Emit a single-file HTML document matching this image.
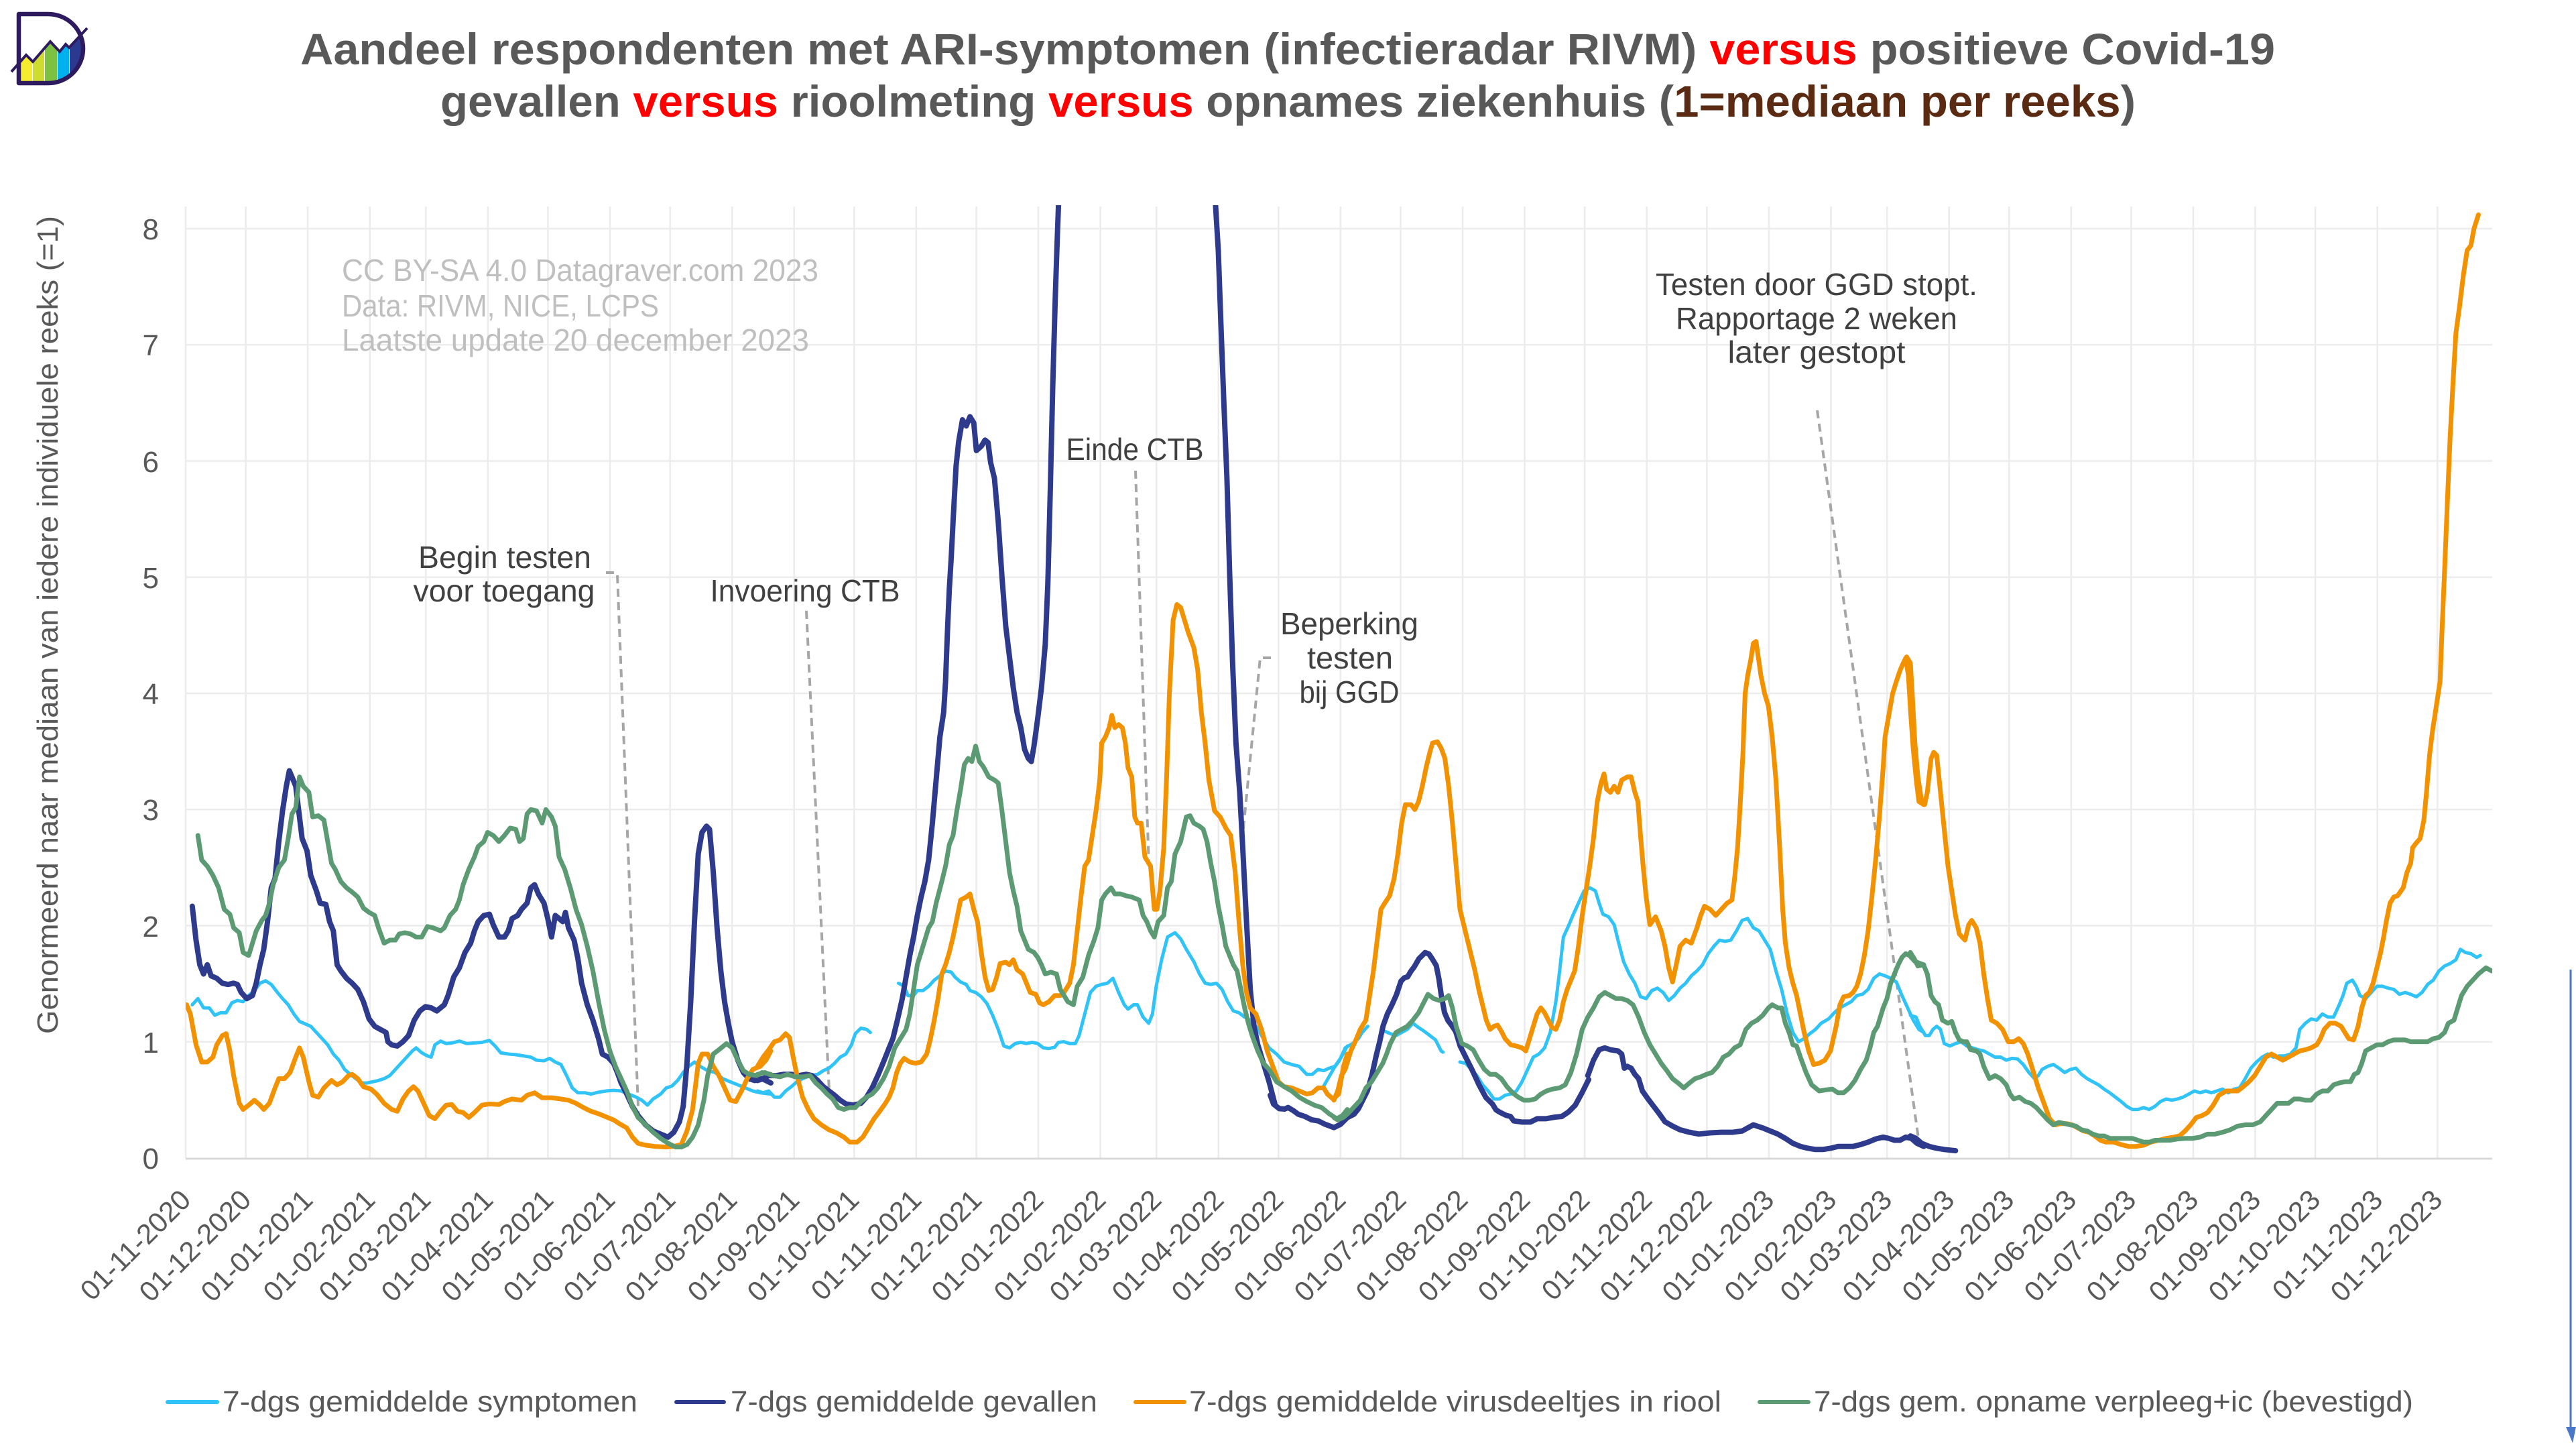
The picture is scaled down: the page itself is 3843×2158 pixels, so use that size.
<!DOCTYPE html>
<html><head><meta charset="utf-8"><style>
html,body{margin:0;padding:0;background:#fff;}
svg{display:block;}
text{font-family:"Liberation Sans",sans-serif;}
</style></head><body>
<svg width="3843" height="2158" viewBox="0 0 3843 2158" xmlns="http://www.w3.org/2000/svg">
<rect width="3843" height="2158" fill="#fff"/>
<defs>
<clipPath id="plot"><rect x="277" y="306" width="3441" height="1424"/></clipPath>
<clipPath id="dclip"><path d="M28,21 H72 A52 51.5 0 0 1 72,124 H28 Z"/></clipPath>
</defs>

<!-- logo -->
<g>
<g clip-path="url(#dclip)">
<rect x="28" y="40" width="20" height="84" fill="#f5ec2f"/>
<rect x="49" y="40" width="17" height="84" fill="#cddc2e"/>
<rect x="67" y="40" width="18" height="84" fill="#7cc142"/>
<rect x="86" y="40" width="17" height="84" fill="#00b0ef"/>
<rect x="104" y="40" width="25" height="84" fill="#2b3990"/>
</g>
<polygon points="17,107 39,82 49,92 75,62 89,77 98,66 103,71 132,40 132,0 10,0 10,107" fill="#fff"/>
<path d="M28,21 H72 A52 51.5 0 0 1 72,124 H28 Z" fill="none" stroke="#2e1a5e" stroke-width="6.5" stroke-linejoin="round"/>
<polyline points="17,107 39,82 49,92 75,62 89,77 98,66 103,71 130,42" fill="none" stroke="#2e1a5e" stroke-width="4"/>
</g>

<!-- title -->
<text x="448" y="96" font-size="66" font-weight="bold" fill="#595959" textLength="2946" lengthAdjust="spacingAndGlyphs">Aandeel respondenten met ARI-symptomen (infectieradar RIVM) <tspan fill="#ff0000">versus</tspan> positieve Covid-19</text>
<text x="657" y="174" font-size="66" font-weight="bold" fill="#595959" textLength="2529" lengthAdjust="spacingAndGlyphs">gevallen <tspan fill="#ff0000">versus</tspan> rioolmeting <tspan fill="#ff0000">versus</tspan> opnames ziekenhuis (<tspan fill="#5b2a12">1=mediaan per reeks</tspan>)</text>

<!-- y axis title -->
<text transform="translate(86,932) rotate(-90)" text-anchor="middle" font-size="44" fill="#595959" textLength="1220" lengthAdjust="spacingAndGlyphs">Genormeerd naar mediaan van iedere individuele reeks (=1)</text>

<!-- gridlines -->
<g stroke="#ececec" stroke-width="2.5" fill="none">
<path d="M277 341.0H3718M277 514.3H3718M277 687.5H3718M277 860.8H3718M277 1034H3718M277 1207.3H3718M277 1380.5H3718M277 1553.8H3718"/>
<path d="M277 308V1727M366.6 308V1727M459.1 308V1727M551.7 308V1727M635.3 308V1727M727.9 308V1727M817.5 308V1727M910 308V1727M999.6 308V1727M1092.2 308V1727M1184.7 308V1727M1274.3 308V1727M1366.9 308V1727M1456.5 308V1727M1549 308V1727M1641.6 308V1727M1725.2 308V1727M1817.8 308V1727M1907.4 308V1727M1999.9 308V1727M2089.5 308V1727M2182.1 308V1727M2274.6 308V1727M2364.2 308V1727M2456.8 308V1727M2546.4 308V1727M2638.9 308V1727M2731.5 308V1727M2815.1 308V1727M2907.7 308V1727M2997.2 308V1727M3089.8 308V1727M3179.4 308V1727M3272 308V1727M3364.5 308V1727M3454.1 308V1727M3546.7 308V1727M3636.3 308V1727"/>
</g>
<line x1="277" y1="1728" x2="3718" y2="1728" stroke="#d9d9d9" stroke-width="3"/>

<!-- y tick labels -->
<g font-size="44" fill="#595959" text-anchor="end">
<text x="237" y="1743">0</text>
<text x="237" y="1570">1</text>
<text x="237" y="1397">2</text>
<text x="237" y="1223">3</text>
<text x="237" y="1050">4</text>
<text x="237" y="877">5</text>
<text x="237" y="704">6</text>
<text x="237" y="530">7</text>
<text x="237" y="357">8</text>
</g>

<!-- x tick labels -->
<g font-size="42" fill="#595959" text-anchor="end">
<text transform="translate(287,1792) rotate(-45)">01-11-2020</text>
<text transform="translate(377,1792) rotate(-45)">01-12-2020</text>
<text transform="translate(469,1792) rotate(-45)">01-01-2021</text>
<text transform="translate(562,1792) rotate(-45)">01-02-2021</text>
<text transform="translate(645,1792) rotate(-45)">01-03-2021</text>
<text transform="translate(738,1792) rotate(-45)">01-04-2021</text>
<text transform="translate(828,1792) rotate(-45)">01-05-2021</text>
<text transform="translate(920,1792) rotate(-45)">01-06-2021</text>
<text transform="translate(1010,1792) rotate(-45)">01-07-2021</text>
<text transform="translate(1102,1792) rotate(-45)">01-08-2021</text>
<text transform="translate(1195,1792) rotate(-45)">01-09-2021</text>
<text transform="translate(1284,1792) rotate(-45)">01-10-2021</text>
<text transform="translate(1377,1792) rotate(-45)">01-11-2021</text>
<text transform="translate(1467,1792) rotate(-45)">01-12-2021</text>
<text transform="translate(1559,1792) rotate(-45)">01-01-2022</text>
<text transform="translate(1652,1792) rotate(-45)">01-02-2022</text>
<text transform="translate(1735,1792) rotate(-45)">01-03-2022</text>
<text transform="translate(1828,1792) rotate(-45)">01-04-2022</text>
<text transform="translate(1917,1792) rotate(-45)">01-05-2022</text>
<text transform="translate(2010,1792) rotate(-45)">01-06-2022</text>
<text transform="translate(2100,1792) rotate(-45)">01-07-2022</text>
<text transform="translate(2192,1792) rotate(-45)">01-08-2022</text>
<text transform="translate(2285,1792) rotate(-45)">01-09-2022</text>
<text transform="translate(2374,1792) rotate(-45)">01-10-2022</text>
<text transform="translate(2467,1792) rotate(-45)">01-11-2022</text>
<text transform="translate(2556,1792) rotate(-45)">01-12-2022</text>
<text transform="translate(2649,1792) rotate(-45)">01-01-2023</text>
<text transform="translate(2742,1792) rotate(-45)">01-02-2023</text>
<text transform="translate(2825,1792) rotate(-45)">01-03-2023</text>
<text transform="translate(2918,1792) rotate(-45)">01-04-2023</text>
<text transform="translate(3007,1792) rotate(-45)">01-05-2023</text>
<text transform="translate(3100,1792) rotate(-45)">01-06-2023</text>
<text transform="translate(3189,1792) rotate(-45)">01-07-2023</text>
<text transform="translate(3282,1792) rotate(-45)">01-08-2023</text>
<text transform="translate(3375,1792) rotate(-45)">01-09-2023</text>
<text transform="translate(3464,1792) rotate(-45)">01-10-2023</text>
<text transform="translate(3557,1792) rotate(-45)">01-11-2023</text>
<text transform="translate(3646,1792) rotate(-45)">01-12-2023</text>
</g>

<!-- watermark -->
<g font-size="46" fill="#bfbfbf">
<text x="510" y="419" textLength="711" lengthAdjust="spacingAndGlyphs">CC BY-SA 4.0 Datagraver.com 2023</text>
<text x="510" y="472" textLength="473" lengthAdjust="spacingAndGlyphs">Data: RIVM, NICE, LCPS</text>
<text x="510" y="523" textLength="697" lengthAdjust="spacingAndGlyphs">Laatste update 20 december 2023</text>
</g>

<!-- annotation leaders -->
<g stroke="#a6a6a6" stroke-width="4" stroke-dasharray="12 8" fill="none">
<path d="M904 854H918"/>
<path d="M921 858L953 1675"/>
<path d="M1203 911L1237 1627"/>
<path d="M1694 702L1714 1292"/>
<path d="M1896 981H1880L1853 1255"/>
<path d="M2711 612L2863 1705"/>
</g>

<!-- annotations -->
<g font-size="46" fill="#404040" text-anchor="middle">
<text x="753" y="847" textLength="258" lengthAdjust="spacingAndGlyphs">Begin testen</text>
<text x="752" y="897" textLength="271" lengthAdjust="spacingAndGlyphs">voor toegang</text>
<text x="1201" y="897" textLength="283" lengthAdjust="spacingAndGlyphs">Invoering CTB</text>
<text x="1693" y="686" textLength="205" lengthAdjust="spacingAndGlyphs">Einde CTB</text>
<text x="2013" y="946" textLength="206" lengthAdjust="spacingAndGlyphs">Beperking</text>
<text x="2014" y="997" textLength="128" lengthAdjust="spacingAndGlyphs">testen</text>
<text x="2013" y="1048" textLength="149" lengthAdjust="spacingAndGlyphs">bij GGD</text>
<text x="2710" y="440" textLength="480" lengthAdjust="spacingAndGlyphs">Testen door GGD stopt.</text>
<text x="2710" y="491" textLength="420" lengthAdjust="spacingAndGlyphs">Rapportage 2 weken</text>
<text x="2710" y="541" textLength="265" lengthAdjust="spacingAndGlyphs">later gestopt</text>
</g>

<!-- series -->
<g clip-path="url(#plot)" fill="none" stroke-linejoin="round" stroke-linecap="round">
<!-- symptomen -->
<g stroke="#2fc3f7" stroke-width="5">
<g transform="translate(270,300) scale(0.56122,0.91837)">
<polyline vector-effect="non-scaling-stroke" points="30,1305 45,1295 60,1310 75,1310 90,1322 105,1318 120,1318 135,1302 150,1298 165,1300 180,1290 195,1282 210,1270 225,1266 240,1272 255,1284 270,1295 285,1305 300,1320 315,1332 330,1336 345,1340 360,1350 375,1360 390,1370 405,1385 420,1395 435,1410 450,1418 465,1425 480,1432 495,1432 510,1430 525,1428 540,1425 555,1420 570,1410 585,1400 600,1390 615,1380 625,1375 640,1383 655,1388 665,1390 675,1370 690,1364 705,1368 720,1367 740,1364 760,1368 780,1367 800,1366 820,1363 835,1372 850,1383 870,1385 890,1386 910,1388 930,1390 945,1395 965,1396 980,1392 995,1398 1010,1402 1025,1420 1040,1440 1055,1448 1075,1448 1090,1450 1110,1447 1130,1445 1150,1444 1170,1445 1190,1450 1210,1455 1225,1460 1240,1468 1255,1458 1275,1450 1290,1440 1305,1437 1320,1428 1335,1415 1350,1405 1365,1398 1380,1405 1400,1412 1420,1415 1440,1425 1460,1430 1480,1435 1500,1440 1520,1445 1540,1448 1568,1450"/>
</g>
<g transform="translate(1130,300) scale(0.56122,0.91837)">
<polyline vector-effect="non-scaling-stroke" points="0,1445 15,1448 30,1445 45,1455 60,1455 75,1445 90,1438 105,1430 120,1425 140,1420 160,1418 175,1412 190,1408 205,1400 220,1390 235,1385 250,1370 260,1352 275,1343 290,1345 300,1350"/>
<polyline vector-effect="non-scaling-stroke" points="375,1270 390,1275 400,1290 415,1290 425,1282 440,1282 455,1275 470,1265 485,1258 500,1250 515,1252 525,1260 540,1268 555,1272 565,1282 580,1285 595,1292 610,1303 625,1322 640,1345 655,1372 670,1375 685,1368 700,1366 715,1368 730,1366 745,1368 760,1375 775,1376 790,1374 800,1366 815,1365 830,1368 845,1368 855,1355 870,1320 885,1285 900,1275 915,1272 930,1270 945,1262 960,1285 975,1305 985,1312 1000,1305 1010,1305 1025,1325 1040,1335 1050,1320 1060,1275 1075,1230 1090,1195 1110,1188 1125,1198 1140,1215 1160,1235 1175,1255 1190,1270 1205,1272 1220,1270 1235,1280 1250,1300 1265,1315 1280,1318 1295,1325 1310,1330 1325,1340 1340,1355 1360,1375 1380,1385 1400,1398 1420,1402 1440,1405 1460,1418 1475,1418 1490,1410 1505,1412 1520,1408 1535,1405 1550,1392 1568,1372"/>
</g>
<g transform="translate(1990,300) scale(0.56122,0.91837)">
<polyline vector-effect="non-scaling-stroke" points="-30,1440 0,1408 15,1395 30,1375 50,1368 65,1360 75,1350 90,1340"/>
<polyline vector-effect="non-scaling-stroke" points="135,1348 150,1352 165,1355 180,1350 195,1345 210,1335 225,1342 240,1348 255,1355 270,1362 285,1380 290,1382"/>
<polyline vector-effect="non-scaling-stroke" points="335,1398 350,1400 365,1410 380,1420 395,1435 410,1445 425,1458 440,1458 455,1452 470,1450 485,1445 500,1430 515,1410 530,1390 545,1385 560,1375 575,1350 590,1300 600,1250 610,1195 625,1175 635,1160 650,1140 665,1120 680,1115 695,1120 705,1140 715,1158 730,1162 745,1175 755,1200 770,1235 785,1255 800,1270 815,1292 830,1295 845,1282 860,1278 875,1285 890,1298 905,1290 920,1278 935,1270 950,1258 965,1250 980,1240 995,1222 1010,1210 1025,1200 1040,1202 1055,1200 1070,1185 1085,1168 1100,1165 1115,1180 1130,1185 1145,1200 1160,1215 1175,1250 1190,1280 1205,1320 1220,1350 1235,1365 1250,1360 1265,1352 1280,1345 1295,1335 1315,1328 1330,1318 1345,1310 1360,1305 1375,1300 1390,1290 1405,1288 1420,1280 1435,1262 1450,1255 1465,1258 1480,1262 1495,1268 1510,1290 1525,1310 1540,1330 1555,1345 1568,1350"/>
</g>
<g transform="translate(2850,300) scale(0.56122,0.91837)">
<polyline vector-effect="non-scaling-stroke" points="0,1322 15,1325 25,1340 40,1355 50,1355 60,1345 70,1340 80,1345 90,1368 105,1372 120,1368 135,1365 150,1372 165,1375 180,1378 195,1380 210,1385 225,1390 240,1390 255,1395 270,1392 285,1393 300,1402 315,1415 330,1425 340,1420 350,1410 365,1405 380,1402 395,1408 410,1415 425,1410 440,1408 455,1418 470,1425 485,1430 500,1435 515,1442 530,1448 545,1455 560,1462 575,1470 590,1475 605,1475 620,1472 635,1475 650,1470 665,1462 680,1458 695,1460 710,1458 725,1455 740,1450 755,1445 770,1448 785,1445 800,1448 815,1445 830,1442 845,1448 860,1442 875,1440 890,1425 905,1408 920,1398 935,1390 950,1385 965,1390 980,1388 995,1388 1010,1385 1025,1375 1035,1345 1050,1335 1065,1328 1080,1330 1095,1320 1110,1325 1125,1325 1140,1305 1150,1290 1160,1270 1175,1265 1185,1275 1195,1290 1210,1295 1225,1285 1240,1275 1255,1275 1270,1278 1285,1280 1300,1288 1315,1285 1330,1288 1345,1292 1360,1285 1375,1272 1390,1265 1405,1250 1420,1242 1435,1238 1450,1232 1462,1215 1475,1220 1490,1222 1505,1228 1515,1225"/>
</g>
</g>

<!-- gevallen -->
<g stroke="#2e3a8c" stroke-width="8">
<g transform="translate(270,300) scale(0.56122,0.91837)">
<polyline vector-effect="non-scaling-stroke" points="30,1145 40,1200 50,1240 60,1255 70,1240 80,1258 95,1262 110,1270 125,1272 140,1270 150,1272 160,1285 175,1295 190,1290 200,1270 210,1240 220,1215 230,1170 240,1115 250,1100 260,1040 270,990 280,950 288,925 295,935 305,950 315,1000 322,1035 335,1055 345,1095 360,1120 370,1140 385,1142 395,1170 405,1185 415,1240 425,1250 440,1262 455,1270 470,1280 485,1300 500,1328 515,1340 530,1345 545,1350 550,1365 560,1370 575,1372 590,1365 605,1355 620,1330 635,1315 650,1308 665,1310 680,1315 700,1305 710,1290 725,1260 740,1245 755,1220 770,1205 780,1185 790,1170 805,1160 820,1158 830,1175 845,1195 860,1195 870,1185 880,1165 895,1160 905,1150 920,1140 930,1115 940,1110 950,1125 965,1140 975,1165 985,1195 995,1160 1005,1165 1015,1170 1022,1155 1030,1180 1045,1200 1055,1230 1065,1270 1080,1305 1095,1330 1110,1360 1120,1385 1135,1390 1150,1400 1160,1415 1170,1432 1185,1450 1200,1470 1215,1485 1235,1500 1255,1510 1275,1515 1295,1520 1310,1512 1325,1495 1335,1470 1345,1400 1355,1300 1365,1170 1375,1060 1385,1025 1397,1015 1405,1020 1415,1090 1425,1180 1435,1250 1445,1300 1455,1335 1465,1365 1480,1395 1495,1415 1510,1425 1525,1428 1545,1425 1568,1432"/>
</g>
<g transform="translate(1130,300) scale(0.56122,0.91837)">
<polyline vector-effect="non-scaling-stroke" points="0,1428 15,1425 30,1420 50,1420 70,1418 90,1418 110,1420 130,1418 145,1420 160,1428 175,1438 190,1445 205,1452 220,1460 235,1466 255,1468 275,1465 290,1455 305,1440 320,1420 335,1398 350,1375 360,1360 372,1330 385,1295 395,1260 405,1225 415,1195 425,1160 435,1130 445,1105 455,1070 465,1010 475,940 485,870 495,830 500,780 505,700 510,630 515,580 520,520 528,430 535,390 545,355 555,365 565,350 575,360 582,405 595,398 605,388 613,392 620,425 630,450 640,520 650,610 660,690 670,740 680,790 690,830 700,855 710,890 720,905 728,910 735,885 745,840 755,790 765,720 772,620 778,480 785,300 792,150 797,60 800,10 806,-200 1212,-200 1218,10 1225,80 1232,200 1240,330 1248,450 1255,600 1263,750 1272,880 1282,960 1290,1050 1300,1170 1310,1280 1320,1340 1330,1370 1345,1400 1360,1430 1375,1465"/>
</g>
<g transform="translate(1850,1200) scale(0.333333)">
<polyline vector-effect="non-scaling-stroke" points="135,1300 150,1340 175,1360 200,1362 215,1355 240,1370 260,1385 290,1395 320,1410 350,1415 380,1430 420,1445 450,1430 480,1400 510,1385 530,1360 550,1320 570,1280 590,1210 610,1120 625,1060 640,990 660,935 680,895 700,850 720,790 735,775 750,770 765,745 780,725 800,690 815,675 828,662 845,668 860,690 878,720 890,780 900,850 915,930 930,965 945,985 965,1015 985,1080 1010,1130 1040,1190 1070,1255 1100,1310 1130,1340 1145,1365 1160,1375 1190,1390 1210,1395 1225,1415 1260,1420 1300,1420 1330,1405 1370,1405 1410,1398 1440,1395 1470,1375 1500,1345 1530,1290 1560,1230"/>
</g>
<g transform="translate(1990,300) scale(0.56122,0.91837)">
<polyline vector-effect="non-scaling-stroke" points="675,1420 690,1395 705,1378 720,1375 735,1378 755,1380 765,1385 772,1408 780,1405 790,1408 800,1418 810,1425 820,1445 835,1458 850,1470 865,1482 880,1495 900,1502 920,1508 945,1512 970,1515 1000,1513 1030,1512 1060,1512 1085,1510 1100,1505 1115,1500 1125,1502 1140,1505 1160,1510 1180,1515 1200,1522 1220,1530 1240,1535 1260,1538 1280,1540 1300,1540 1320,1538 1340,1535 1360,1535 1380,1535 1400,1532 1420,1528 1440,1523 1460,1520 1475,1522 1490,1525 1505,1525 1520,1520 1535,1522 1550,1530 1568,1535"/>
</g>
<g transform="translate(2850,300) scale(0.56122,0.91837)">
<polyline vector-effect="non-scaling-stroke" points="0,1518 15,1522 30,1530 50,1535 70,1538 90,1540 120,1542"/>
</g>
</g>

<!-- riool -->
<g stroke="#f39200" stroke-width="7">
<g transform="translate(270,300) scale(0.56122,0.91837)">
<polyline vector-effect="non-scaling-stroke" points="15,1305 25,1320 40,1370 55,1398 70,1398 85,1390 95,1370 110,1355 120,1352 130,1380 140,1420 155,1465 165,1475 180,1468 195,1460 210,1468 220,1475 235,1465 250,1440 260,1425 275,1425 290,1415 305,1390 315,1375 325,1390 340,1430 350,1452 365,1455 380,1440 400,1428 415,1435 430,1430 445,1420 455,1418 470,1425 485,1438 505,1442 520,1450 540,1465 560,1475 575,1478 590,1458 605,1445 618,1438 630,1445 645,1465 660,1485 675,1490 690,1478 705,1468 720,1467 735,1478 750,1480 765,1488 780,1480 800,1468 820,1466 845,1467 860,1462 880,1458 905,1460 920,1452 940,1448 960,1456 985,1456 1010,1458 1030,1460 1050,1465 1070,1472 1090,1478 1110,1482 1130,1487 1150,1492 1165,1498 1185,1505 1200,1520 1215,1530 1235,1533 1260,1535 1290,1536 1310,1535 1330,1532 1345,1510 1360,1475 1375,1400 1385,1385 1400,1385 1415,1405 1430,1420 1445,1440 1460,1460 1475,1462 1490,1445 1505,1425 1520,1410 1540,1405 1555,1395 1568,1380"/>
</g>
<g transform="translate(1130,300) scale(0.56122,0.91837)">
<polyline vector-effect="non-scaling-stroke" points="0,1405 15,1390 30,1378 45,1365 60,1362 75,1352 85,1358 95,1390 105,1420 120,1455 135,1475 150,1490 170,1500 190,1508 210,1513 230,1520 245,1528 265,1528 280,1520 295,1505 310,1490 325,1478 340,1465 350,1455 360,1440 370,1415 380,1400 390,1392 405,1398 420,1400 435,1398 450,1385 460,1360 470,1330 480,1295 490,1255 500,1240 510,1220 520,1195 530,1165 540,1135 555,1130 565,1125 575,1150 585,1170 595,1220 605,1260 615,1282 625,1280 635,1262 645,1238 660,1236 670,1240 680,1232 690,1248 705,1255 715,1270 725,1285 740,1288 750,1302 760,1305 775,1300 790,1290 805,1290 815,1285 830,1270 840,1240 850,1185 860,1130 870,1080 880,1070 890,1030 900,990 910,940 915,880 925,870 935,855 942,835 950,855 960,850 970,855 978,880 985,920 995,935 1003,1000 1010,1010 1020,1010 1030,1065 1045,1080 1055,1150 1062,1150 1070,1120 1080,1050 1088,930 1095,800 1105,680 1115,655 1125,660 1135,680 1145,700 1160,725 1170,760 1180,830 1190,880 1200,940 1215,990 1230,1000 1245,1018 1258,1030 1270,1090 1280,1170 1290,1240 1300,1285 1310,1310 1325,1320 1340,1345 1355,1380 1370,1405 1385,1430 1400,1438 1420,1440 1440,1445 1460,1450 1475,1448 1490,1440 1505,1440 1515,1450 1530,1458 1545,1450 1558,1405 1568,1385"/>
</g>
<g transform="translate(1990,300) scale(0.56122,0.91837)">
<polyline vector-effect="non-scaling-stroke" points="0,1460 10,1445 20,1420 30,1410 45,1380 60,1360 70,1345 85,1330 95,1290 105,1250 115,1200 125,1150 135,1140 148,1128 160,1100 170,1060 180,1010 190,980 205,980 215,988 225,975 235,950 245,920 255,895 262,880 275,878 285,888 295,905 305,950 315,1010 325,1080 335,1150 345,1175 355,1200 365,1225 375,1250 385,1280 395,1305 405,1330 415,1345 425,1340 435,1338 445,1348 455,1360 470,1370 485,1372 500,1375 510,1380 520,1360 530,1340 540,1320 550,1310 560,1318 570,1330 580,1342 590,1345 600,1330 610,1300 620,1280 630,1265 640,1250 650,1210 660,1160 670,1120 680,1080 690,1035 700,975 710,945 718,930 725,955 735,960 745,950 755,960 765,940 780,935 790,935 800,960 808,975 815,1030 822,1080 830,1130 840,1175 855,1162 870,1185 880,1210 890,1245 900,1268 910,1240 920,1210 935,1200 950,1205 965,1180 975,1160 985,1145 1000,1150 1015,1160 1030,1150 1045,1140 1058,1135 1065,1100 1073,1050 1080,980 1087,900 1093,800 1100,770 1108,745 1115,718 1122,715 1128,740 1135,770 1145,800 1155,820 1165,870 1175,940 1185,1050 1193,1150 1200,1205 1210,1245 1220,1270 1230,1290 1240,1320 1250,1350 1262,1380 1275,1402 1290,1400 1305,1395 1320,1380 1335,1340 1345,1305 1355,1292 1370,1290 1380,1285 1390,1275 1400,1255 1410,1225 1420,1185 1430,1130 1440,1070 1450,1000 1460,920 1465,870 1475,835 1485,800 1495,780 1505,762 1512,752 1520,742 1527,770 1533,830 1540,890 1548,940 1555,975 1568,980"/>
</g>
<g transform="translate(2850,300) scale(0.56122,0.91837)">
<polyline vector-effect="non-scaling-stroke" points="-10,740 0,750 5,800 12,880 20,935 30,975 38,980 45,960 55,905 62,895 70,900 80,960 90,1020 100,1080 110,1120 120,1160 130,1190 145,1200 155,1175 163,1168 175,1180 185,1205 195,1255 205,1295 215,1330 230,1335 245,1345 260,1365 275,1365 288,1360 300,1368 312,1385 325,1410 340,1440 355,1465 370,1490 385,1500 400,1498 415,1498 430,1500 445,1505 460,1510 475,1512 490,1518 505,1525 520,1528 540,1528 560,1532 580,1535 600,1535 620,1533 640,1528 660,1525 680,1522 700,1520 715,1518 730,1510 745,1500 760,1488 775,1485 790,1480 805,1468 820,1452 840,1445 855,1445 870,1445 885,1438 900,1430 915,1420 930,1405 945,1390 960,1385 975,1390 990,1395 1005,1390 1020,1385 1035,1380 1050,1378 1065,1375 1080,1370 1090,1360 1100,1345 1115,1335 1130,1335 1145,1340 1155,1350 1165,1360 1178,1362 1190,1340 1200,1310 1210,1290 1220,1285 1230,1270 1240,1245 1250,1220 1258,1195 1265,1170 1275,1140 1285,1130 1295,1128 1310,1115 1320,1090 1330,1075 1335,1050 1345,1042 1355,1035 1365,1005 1372,960 1380,900 1388,860 1398,820 1408,780 1413,700 1420,600 1428,480 1435,380 1442,300 1450,215 1460,170 1470,120 1480,80 1490,72 1498,45 1510,22"/>
</g>
</g>

<!-- opname -->
<g stroke="#5b9a72" stroke-width="7">
<g transform="translate(270,300) scale(0.56122,0.91837)">
<polyline vector-effect="non-scaling-stroke" points="45,1030 55,1070 70,1080 85,1095 100,1115 115,1150 130,1158 140,1180 155,1188 165,1220 180,1225 190,1205 200,1185 215,1168 225,1160 235,1140 245,1110 260,1082 275,1070 285,1035 295,995 305,985 315,935 325,950 340,960 350,1000 365,998 380,1005 390,1040 400,1075 410,1085 425,1105 440,1115 455,1122 470,1130 485,1148 500,1155 515,1160 525,1180 540,1205 555,1200 570,1200 580,1190 595,1188 610,1190 625,1195 640,1195 655,1178 670,1180 690,1185 700,1180 715,1160 730,1150 740,1135 750,1110 765,1085 780,1065 790,1048 805,1040 815,1025 830,1030 845,1040 860,1030 875,1018 890,1020 900,1040 910,1035 920,995 930,988 945,990 960,1010 970,988 985,1000 995,1015 1005,1065 1020,1085 1035,1115 1050,1150 1065,1175 1080,1210 1095,1250 1110,1300 1125,1345 1140,1380 1155,1405 1170,1425 1185,1445 1200,1470 1215,1488 1235,1500 1255,1512 1275,1522 1295,1530 1315,1536 1330,1536 1345,1532 1360,1520 1375,1500 1390,1460 1400,1420 1415,1385 1430,1378 1450,1368 1465,1375 1480,1395 1495,1412 1510,1418 1530,1420 1545,1415 1568,1418"/>
</g>
<g transform="translate(1130,300) scale(0.56122,0.91837)">
<polyline vector-effect="non-scaling-stroke" points="0,1418 20,1415 40,1420 60,1422 80,1418 100,1422 120,1422 140,1420 155,1432 170,1440 185,1450 200,1458 215,1472 230,1475 245,1472 260,1472 275,1462 290,1455 305,1450 320,1440 335,1425 350,1405 365,1375 380,1360 395,1345 405,1320 415,1280 425,1240 440,1210 455,1180 465,1170 475,1140 490,1105 500,1080 510,1045 520,1030 530,990 540,955 550,915 560,905 570,910 580,885 590,910 600,918 615,935 630,940 640,945 650,990 660,1040 670,1090 680,1120 690,1145 700,1185 710,1200 720,1215 735,1220 745,1228 755,1240 765,1255 780,1252 795,1255 805,1280 815,1290 825,1300 840,1305 850,1275 865,1260 880,1225 895,1200 905,1180 915,1135 925,1125 940,1115 950,1125 965,1125 980,1128 995,1130 1015,1135 1025,1160 1035,1170 1045,1185 1055,1195 1065,1170 1080,1160 1090,1115 1100,1105 1110,1060 1125,1040 1140,1000 1150,998 1160,1010 1175,1015 1185,1020 1195,1040 1205,1075 1215,1105 1225,1145 1235,1175 1245,1210 1255,1225 1265,1240 1275,1250 1285,1280 1295,1310 1305,1335 1315,1355 1330,1380 1345,1400 1360,1410 1380,1430 1400,1438 1420,1445 1440,1455 1460,1462 1480,1468 1500,1472 1520,1482 1540,1490 1555,1485 1568,1475"/>
</g>
<g transform="translate(1990,300) scale(0.56122,0.91837)">
<polyline vector-effect="non-scaling-stroke" points="0,1488 10,1492 25,1488 40,1480 55,1470 70,1460 85,1440 100,1430 115,1415 130,1400 140,1385 150,1368 165,1350 180,1345 195,1340 210,1330 225,1318 240,1300 250,1288 265,1295 280,1298 295,1295 305,1290 315,1310 325,1340 340,1368 355,1372 370,1378 385,1395 400,1410 415,1418 430,1418 445,1425 460,1438 475,1448 490,1455 505,1460 520,1460 535,1458 550,1450 565,1445 580,1442 600,1440 615,1435 630,1415 645,1385 660,1345 675,1325 690,1310 705,1292 720,1285 735,1290 750,1295 765,1295 780,1298 795,1305 810,1325 825,1350 840,1370 855,1385 870,1400 885,1412 900,1425 915,1432 930,1440 945,1432 960,1425 975,1422 990,1418 1005,1415 1020,1405 1035,1390 1050,1385 1065,1375 1080,1370 1095,1345 1110,1335 1125,1330 1140,1322 1155,1310 1165,1305 1180,1310 1190,1310 1200,1335 1210,1350 1220,1370 1230,1372 1240,1390 1255,1415 1270,1435 1290,1445 1310,1443 1325,1442 1340,1448 1355,1448 1370,1440 1385,1428 1400,1410 1415,1395 1425,1375 1435,1350 1445,1340 1460,1310 1470,1295 1480,1270 1490,1255 1500,1240 1510,1228 1520,1222 1530,1225 1545,1235 1568,1240"/>
</g>
<g transform="translate(2850,300) scale(0.56122,0.91837)">
<polyline vector-effect="non-scaling-stroke" points="0,1220 10,1230 20,1242 35,1240 45,1255 55,1290 65,1300 75,1305 85,1330 100,1335 110,1332 120,1350 130,1362 140,1365 150,1365 160,1378 175,1380 185,1385 195,1405 210,1425 225,1420 240,1425 255,1435 265,1450 275,1458 290,1455 305,1462 320,1465 335,1472 350,1482 365,1492 380,1500 395,1496 410,1498 425,1500 440,1502 455,1508 470,1510 485,1515 500,1518 515,1518 530,1522 545,1522 560,1522 575,1522 590,1522 605,1525 620,1528 635,1528 650,1525 670,1525 690,1525 710,1523 730,1522 750,1522 770,1520 790,1515 810,1515 830,1512 850,1508 870,1502 890,1500 910,1500 930,1495 945,1485 960,1475 975,1465 990,1465 1005,1465 1020,1458 1035,1458 1050,1460 1065,1460 1080,1450 1095,1445 1110,1445 1125,1435 1140,1432 1155,1430 1170,1430 1180,1418 1190,1415 1200,1400 1210,1380 1225,1375 1240,1370 1255,1370 1270,1365 1285,1362 1300,1362 1315,1362 1330,1365 1345,1365 1360,1365 1375,1365 1390,1360 1405,1358 1420,1350 1430,1335 1445,1330 1455,1310 1465,1290 1480,1275 1495,1265 1510,1255 1520,1250 1530,1245 1545,1250"/>
</g>
</g>
</g>

<!-- legend -->
<g stroke-width="6" stroke-linecap="round">
<line x1="250" y1="2091" x2="324" y2="2091" stroke="#2fc3f7"/>
<line x1="1009" y1="2091" x2="1080" y2="2091" stroke="#2e3a8c"/>
<line x1="1694" y1="2091" x2="1767" y2="2091" stroke="#f39200"/>
<line x1="2625" y1="2091" x2="2698" y2="2091" stroke="#5b9a72"/>
</g>
<g font-size="44" fill="#595959">
<text x="332" y="2105" textLength="619" lengthAdjust="spacingAndGlyphs">7-dgs gemiddelde symptomen</text>
<text x="1090" y="2105" textLength="547" lengthAdjust="spacingAndGlyphs">7-dgs gemiddelde gevallen</text>
<text x="1774" y="2105" textLength="794" lengthAdjust="spacingAndGlyphs">7-dgs gemiddelde virusdeeltjes in riool</text>
<text x="2706" y="2105" textLength="894" lengthAdjust="spacingAndGlyphs">7-dgs gem. opname verpleeg+ic (bevestigd)</text>
</g>

<!-- right edge blue marker -->
<line x1="3835" y1="1446" x2="3835" y2="2135" stroke="#4a78c8" stroke-width="3"/>
<polygon points="3828,2128 3843,2128 3838,2152" fill="#4a78c8"/>
</svg>
</body></html>
